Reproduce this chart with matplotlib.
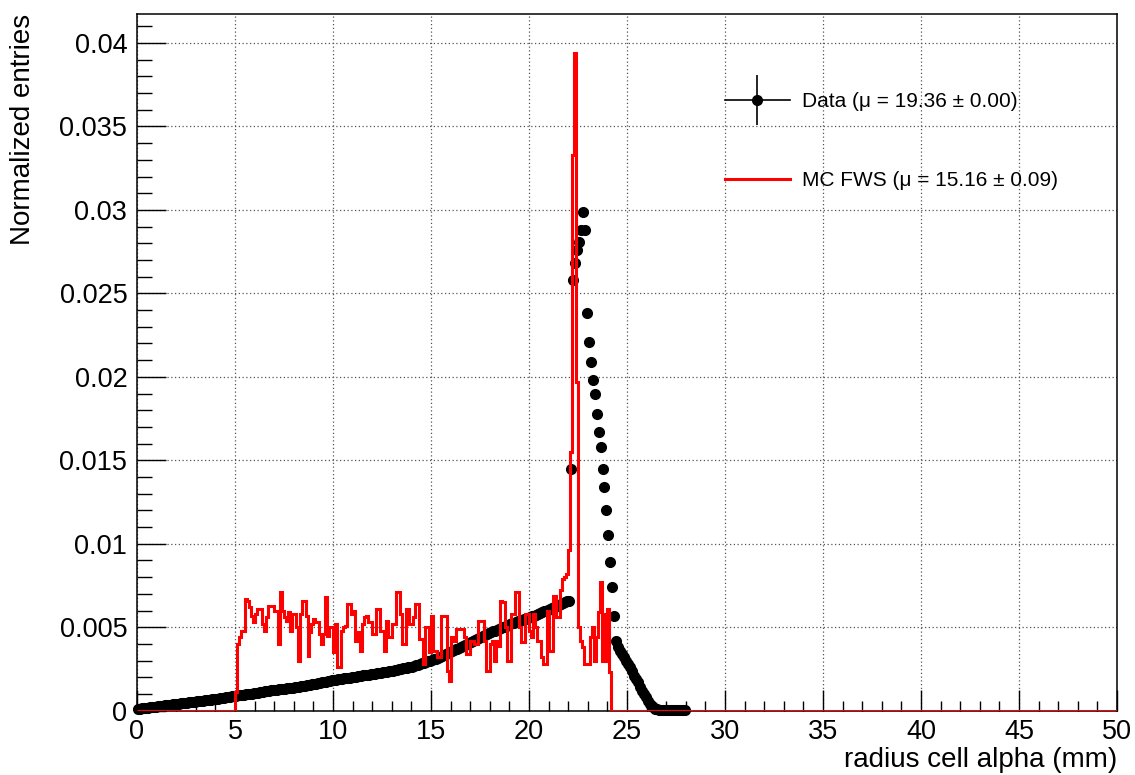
import numpy as np
import matplotlib
matplotlib.use("Agg")
import matplotlib.pyplot as plt
from matplotlib.lines import Line2D
from matplotlib.legend_handler import HandlerTuple
from matplotlib.ticker import MultipleLocator, FixedLocator, FixedFormatter

plt.rcParams['font.family'] = ['Liberation Sans', 'DejaVu Sans']

# ---------------- data ----------------
bin_width = 0.1
n_bins = 500  # 0 .. 50 mm

# Data: bin contents from 0.05 mm (bin centres, 0.1 mm bins)
data_rise = [
    0.00010, 0.00012, 0.00013, 0.00014, 0.00016, 0.00018, 0.00019, 0.00020, 0.00022, 0.00024,
    0.00025, 0.00026, 0.00028, 0.00030, 0.00031, 0.00032, 0.00034, 0.00036, 0.00037, 0.00038,
    0.00040, 0.00042, 0.00043, 0.00044, 0.00046, 0.00048, 0.00049, 0.00050, 0.00052, 0.00054,
    0.00055, 0.00056, 0.00058, 0.00060, 0.00061, 0.00062, 0.00064, 0.00066, 0.00067, 0.00068,
    0.00070, 0.00072, 0.00074, 0.00075, 0.00078, 0.00080, 0.00081, 0.00084, 0.00086, 0.00088,
    0.00090, 0.00091, 0.00092, 0.00094, 0.00096, 0.00097, 0.00098, 0.00100, 0.00102, 0.00103,
    0.00105, 0.00107, 0.00109, 0.00110, 0.00113, 0.00115, 0.00116, 0.00119, 0.00121, 0.00123,
    0.00125, 0.00126, 0.00128, 0.00130, 0.00131, 0.00132, 0.00134, 0.00136, 0.00137, 0.00138,
    0.00140, 0.00142, 0.00144, 0.00146, 0.00147, 0.00150, 0.00152, 0.00153, 0.00156, 0.00158,
    0.00160, 0.00162, 0.00165, 0.00166, 0.00170, 0.00172, 0.00174, 0.00177, 0.00180, 0.00182,
    0.00185, 0.00186, 0.00188, 0.00190, 0.00191, 0.00193, 0.00195, 0.00196, 0.00198, 0.00200,
    0.00202, 0.00204, 0.00205, 0.00207, 0.00209, 0.00211, 0.00212, 0.00214, 0.00216, 0.00218,
    0.00220, 0.00222, 0.00224, 0.00226, 0.00228, 0.00230, 0.00232, 0.00234, 0.00236, 0.00238,
    0.00240, 0.00243, 0.00245, 0.00248, 0.00250, 0.00253, 0.00255, 0.00257, 0.00259, 0.00261,
    0.00263, 0.00267, 0.00271, 0.00274, 0.00279, 0.00283, 0.00286, 0.00291, 0.00295, 0.00298,
    0.00302, 0.00307, 0.00312, 0.00317, 0.00322, 0.00328, 0.00333, 0.00338, 0.00344, 0.00350,
    0.00356, 0.00361, 0.00367, 0.00372, 0.00378, 0.00384, 0.00389, 0.00395, 0.00400, 0.00405,
    0.00410, 0.00416, 0.00422, 0.00427, 0.00434, 0.00440, 0.00445, 0.00452, 0.00458, 0.00463,
    0.00470, 0.00475, 0.00480, 0.00484, 0.00490, 0.00495, 0.00500, 0.00504, 0.00510, 0.00515,
    0.00520, 0.00524, 0.00528, 0.00531, 0.00536, 0.00540, 0.00543, 0.00548, 0.00552, 0.00556,
    0.00560, 0.00565, 0.00570, 0.00574, 0.00580, 0.00585, 0.00589, 0.00595, 0.00600, 0.00604,
    0.00610, 0.00615, 0.00620, 0.00624, 0.00630, 0.00635, 0.00640, 0.00644, 0.00650, 0.00655,
    0.00660,
]
data_peak = [
    0.0145, 0.0258, 0.0268, 0.0276, 0.0281, 0.0288, 0.0299, 0.0288, 0.0238,
    0.0221, 0.0209, 0.0198, 0.0190, 0.0178, 0.0167, 0.0158, 0.0145, 0.0134, 0.0120,
    0.0105, 0.0089, 0.0074, 0.0057, 0.0042, 0.0038, 0.0036, 0.0034, 0.0032, 0.0030,
    0.0028, 0.0026, 0.0024, 0.0021, 0.0019, 0.0017, 0.0014, 0.0012, 0.0010, 0.0008,
    0.0006, 0.0004, 0.0003, 0.0002, 0.00012, 0.00008, 0.00006, 0.00005, 0.00005, 0.00004,
    0.00004, 0.00004, 0.00003, 0.00003, 0.00003, 0.00002, 0.00002, 0.00002, 0.00002, 0.00001,
]
data_values = data_rise + data_peak

# MC FWS: bin contents starting at 5.0 mm (0.1 mm bins), zero elsewhere
mc_start = 5.0
mc_values = [
    0.0011, 0.0040, 0.0044, 0.0048, 0.0048, 0.0067, 0.0066, 0.0062, 0.0057, 0.0053,  # 5
    0.0058, 0.0061, 0.0061, 0.0061, 0.0052, 0.0048, 0.0056, 0.0063, 0.0063, 0.0063,  # 6
    0.0060, 0.0060, 0.0040, 0.0071, 0.0060, 0.0056, 0.0054, 0.0059, 0.0048, 0.0058,  # 7
    0.0058, 0.0050, 0.0030, 0.0058, 0.0066, 0.0066, 0.0057, 0.0033, 0.0047, 0.0052,  # 8
    0.0055, 0.0053, 0.0053, 0.0046, 0.0040, 0.0046, 0.0068, 0.0045, 0.0050, 0.0050,  # 9
    0.0035, 0.0052, 0.0026, 0.0026, 0.0048, 0.0050, 0.0051, 0.0064, 0.0064, 0.0058,  # 10
    0.0060, 0.0042, 0.0047, 0.0047, 0.0036, 0.0052, 0.0056, 0.0057, 0.0053, 0.0053,  # 11
    0.0046, 0.0046, 0.0061, 0.0061, 0.0048, 0.0048, 0.0036, 0.0054, 0.0044, 0.0044,  # 12
    0.0052, 0.0052, 0.0071, 0.0071, 0.0058, 0.0040, 0.0040, 0.0061, 0.0061, 0.0052,  # 13
    0.0052, 0.0056, 0.0064, 0.0064, 0.0043, 0.0043, 0.0028, 0.0050, 0.0050, 0.0035,  # 14
    0.0057, 0.0036, 0.0036, 0.0032, 0.0032, 0.0057, 0.0057, 0.0057, 0.0024, 0.0018,  # 15
    0.0044, 0.0042, 0.0042, 0.0049, 0.0049, 0.0049, 0.0049, 0.0044, 0.0034, 0.0034,  # 16
    0.0042, 0.0042, 0.0040, 0.0040, 0.0054, 0.0054, 0.0054, 0.0042, 0.0024, 0.0024,  # 17
    0.0040, 0.0042, 0.0030, 0.0042, 0.0039, 0.0066, 0.0065, 0.0065, 0.0050, 0.0030,  # 18
    0.0030, 0.0058, 0.0058, 0.0071, 0.0071, 0.0050, 0.0041, 0.0041, 0.0058, 0.0058,  # 19
    0.0048, 0.0044, 0.0058, 0.0050, 0.0042, 0.0042, 0.0032, 0.0028, 0.0028, 0.0060,  # 20
    0.0036, 0.0036, 0.0069, 0.0069, 0.0056, 0.0056, 0.0072, 0.0079, 0.0080, 0.0082,  # 21
    0.0096, 0.0155, 0.0333, 0.0394, 0.0197, 0.0050, 0.0042, 0.0038, 0.0028, 0.0028,  # 22
    0.0028, 0.0044, 0.0050, 0.0030, 0.0044, 0.0059, 0.0077, 0.0030, 0.0058, 0.0030,  # 23
    0.0061, 0.0023,                                                                  # 24
]

x_ticks = [0, 5, 10, 15, 20, 25, 30, 35, 40, 45, 50]
x_tick_labels = ['0', '5', '10', '15', '20', '25', '30', '35', '40', '45', '50']
y_ticks = [0, 0.005, 0.01, 0.015, 0.02, 0.025, 0.03, 0.035, 0.04]
y_tick_labels = ['0', '0.005', '0.01', '0.015', '0.02', '0.025', '0.03', '0.035', '0.04']

legend_labels = ['Data (\u03bc = 19.36 \u00b1 0.00)', 'MC FWS (\u03bc = 15.16 \u00b1 0.09)']
x_title = 'radius cell alpha (mm)'
y_title = 'Normalized entries'

# ---------------- build ----------------
data_x = (np.arange(len(data_values)) + 0.5) * bin_width
edges = np.arange(n_bins + 1) * bin_width
mc_full = np.zeros(n_bins)
i0 = int(round(mc_start / bin_width))
mc_full[i0:i0 + len(mc_values)] = mc_values

W, H = 1135, 775
fig = plt.figure(figsize=(W / 100, H / 100), dpi=100)
L, R, T, B = 137, 1117, 14, 711
ax = fig.add_axes([L / W, 1 - B / H, (R - L) / W, (B - T) / H])

ax.plot(data_x, data_values, 'o', color='black', ms=7, mec='black',
        clip_on=False, zorder=3)
ax.stairs(mc_full, edges, color='red', lw=2.2, baseline=None, zorder=4)

ax.set_xlim(0, 50)
ax.set_ylim(-0.00002, 0.04174)

ax.xaxis.set_major_locator(FixedLocator(x_ticks))
ax.xaxis.set_major_formatter(FixedFormatter(x_tick_labels))
ax.xaxis.set_minor_locator(MultipleLocator(1))
ax.yaxis.set_major_locator(FixedLocator(y_ticks))
ax.yaxis.set_major_formatter(FixedFormatter(y_tick_labels))
ax.yaxis.set_minor_locator(MultipleLocator(0.001))

ax.tick_params(axis='both', which='both', direction='in', top=False, right=False,
               labelsize=19.5, width=1, color='black')
ax.tick_params(axis='y', which='major', length=21.2, pad=7)
ax.tick_params(axis='y', which='minor', length=10.6)
ax.tick_params(axis='x', which='major', length=15, pad=6)
ax.tick_params(axis='x', which='minor', length=7.5)

ax.set_axisbelow(True)
ax.grid(True, which='major', color='#555555', linestyle=(0, (1, 2)), linewidth=0.9)
for s in ax.spines.values():
    s.set_linewidth(1.1)
    s.set_color('black')

ax.set_xlabel(x_title, fontsize=20, loc='right')
ax.xaxis.set_label_coords(1.0, -0.052)
ax.set_ylabel(y_title, fontsize=20, loc='top')
ax.yaxis.set_label_coords(-0.103, 1.0)

h_data = (Line2D([], [], color='black', lw=1.2),
          Line2D([], [], color='black', marker='|', ms=36, mew=1.2, ls='none'),
          Line2D([], [], color='black', marker='o', ms=7, ls='none'))
h_mc = Line2D([], [], color='red', lw=2.2)
ax.legend([h_data, h_mc], legend_labels,
          handler_map={tuple: HandlerTuple(ndivide=1, pad=0)},
          frameon=False, loc='upper left', bbox_to_anchor=(0.6, 0.888),
          fontsize=15, handlelength=3.1, handletextpad=0.6, labelspacing=2.9,
          borderpad=0, borderaxespad=0)

fig.savefig('out.png', dpi=100)
